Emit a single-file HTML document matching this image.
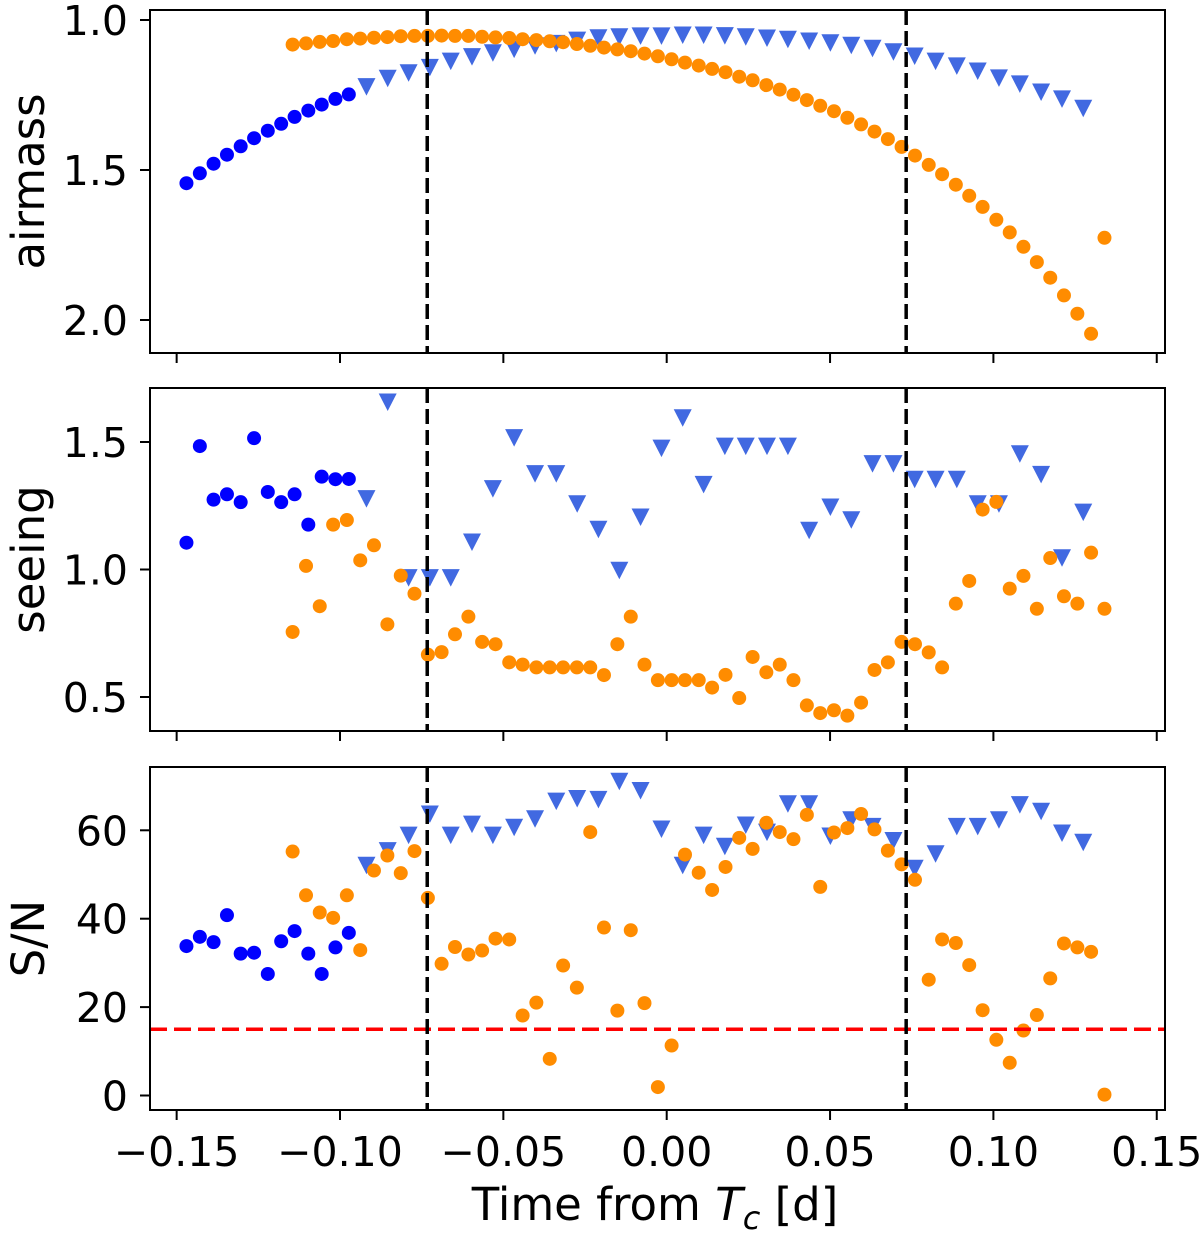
<!DOCTYPE html>
<html><head><meta charset="utf-8">
<style>
html,body{margin:0;padding:0;background:#fff;}
svg{display:block;}
text{font-family:"DejaVu Sans","Liberation Sans",sans-serif;fill:#000;}
</style></head>
<body>
<svg id="chart" width="1200" height="1233" viewBox="0 0 1200 1233" xmlns="http://www.w3.org/2000/svg"></svg>
<script>
// ---- data ----
const tBlue = [-0.1470,-0.1429,-0.1387,-0.1346,-0.1304,-0.1263,-0.1221,-0.1180,-0.1139,-0.1097,-0.1056,-0.1014,-0.0973];
const tTri = [-0.0919,-0.0854,-0.0790,-0.0725,-0.0661,-0.0596,-0.0532,-0.0467,-0.0403,-0.0338,-0.0274,-0.0209,-0.0145,-0.0080,-0.0016,0.0049,0.0113,0.0178,0.0242,0.0307,0.0371,0.0436,0.0501,0.0565,0.0630,0.0694,0.0759,0.0823,0.0888,0.0952,0.1017,0.1081,0.1146,0.1210,0.1275];
const tOrange = [-0.1145,-0.1104,-0.1062,-0.1021,-0.0979,-0.0938,-0.0896,-0.0855,-0.0814,-0.0772,-0.0731,-0.0689,-0.0648,-0.0607,-0.0565,-0.0524,-0.0482,-0.0441,-0.0399,-0.0358,-0.0317,-0.0275,-0.0234,-0.0192,-0.0151,-0.0110,-0.0068,-0.0027,0.0015,0.0056,0.0098,0.0139,0.0180,0.0222,0.0263,0.0305,0.0346,0.0388,0.0429,0.0470,0.0512,0.0553,0.0595,0.0636,0.0677,0.0719,0.0760,0.0802,0.0843,0.0885,0.0926,0.0967,0.1009,0.1050,0.1092,0.1133,0.1174,0.1216,0.1257,0.1299,0.1340];

const airBlue = [1.544,1.511,1.479,1.449,1.421,1.394,1.369,1.346,1.323,1.302,1.282,1.263,1.248];
const airTri = [1.222,1.194,1.176,1.158,1.137,1.122,1.109,1.097,1.086,1.078,1.067,1.059,1.056,1.053,1.053,1.050,1.050,1.052,1.056,1.060,1.064,1.070,1.076,1.084,1.094,1.106,1.120,1.137,1.153,1.170,1.193,1.213,1.240,1.263,1.294];
const airOrange = [1.082,1.078,1.073,1.070,1.064,1.062,1.059,1.057,1.054,1.053,1.053,1.052,1.053,1.053,1.056,1.058,1.060,1.064,1.067,1.071,1.074,1.080,1.086,1.092,1.098,1.104,1.112,1.121,1.131,1.142,1.152,1.163,1.174,1.189,1.201,1.217,1.232,1.249,1.267,1.286,1.304,1.326,1.348,1.372,1.397,1.423,1.452,1.483,1.514,1.549,1.586,1.623,1.666,1.708,1.756,1.807,1.859,1.918,1.979,2.046,1.726];

const seeBlue = [1.105,1.484,1.274,1.295,1.264,1.515,1.304,1.264,1.295,1.176,1.364,1.354,1.355];
const seeTri = [1.278,1.657,0.968,0.968,0.968,1.108,1.317,1.517,1.376,1.376,1.258,1.158,0.997,1.206,1.476,1.595,1.334,1.484,1.484,1.484,1.484,1.154,1.245,1.195,1.415,1.415,1.354,1.354,1.354,1.258,1.258,1.454,1.373,1.046,1.225];
const seeOrange = [0.755,1.014,0.856,1.176,1.194,1.036,1.095,0.785,0.976,0.905,0.666,0.676,0.746,0.815,0.716,0.707,0.636,0.627,0.616,0.616,0.616,0.616,0.616,0.586,0.707,0.815,0.627,0.566,0.566,0.566,0.566,0.537,0.587,0.496,0.657,0.597,0.627,0.566,0.467,0.437,0.448,0.427,0.478,0.606,0.636,0.716,0.707,0.675,0.616,0.866,0.955,1.235,1.265,0.925,0.975,0.846,1.045,0.895,0.866,1.066,0.846];

const snBlue = [33.8,35.9,34.7,40.8,32.1,32.3,27.5,34.9,37.2,32.1,27.5,33.5,36.8];
const snTri = [52.1,55.4,58.9,63.7,58.9,61.4,58.9,60.7,62.6,66.6,67.2,67.0,71.1,69.0,60.3,52.1,58.9,56.4,61.2,59.6,66.0,66.0,58.7,62.4,60.9,57.7,51.4,54.7,60.9,60.9,62.4,65.8,64.3,59.4,57.3];
const snOrange = [55.2,45.3,41.4,40.2,45.3,32.9,50.9,54.3,50.3,55.3,44.7,29.8,33.6,31.9,32.8,35.5,35.3,18.1,21.0,8.3,29.4,24.4,59.6,38.0,19.2,37.4,20.9,1.9,11.3,54.5,50.4,46.5,51.7,58.3,55.8,61.7,59.6,58.0,63.5,47.2,59.5,60.5,63.7,60.2,55.4,52.3,48.8,26.2,35.3,34.5,29.5,19.3,12.6,7.4,14.7,18.2,26.5,34.4,33.5,32.5,0.2];

const xTicks = [-0.15,-0.10,-0.05,0.00,0.05,0.10,0.15];
const xTickLabels = ["\u22120.15","\u22120.10","\u22120.05","0.00","0.05","0.10","0.15"];
const airTicks = [1.0,1.5,2.0];
const airTickLabels = ["1.0","1.5","2.0"];
const seeTicks = [0.5,1.0,1.5];
const seeTickLabels = ["0.5","1.0","1.5"];
const snTicks = [0,20,40,60];
const snTickLabels = ["0","20","40","60"];
const transitEdges = [-0.0733,0.0733];
const snThreshold = [15];

// ---- scales ----
const X0 = 150, X1 = 1165;
const xs = t => 666.7 + t*3267;
const panels = [
  {name:'airmass', top:10, bot:353, y:v => 20 + (v-1)*300, ticks:airTicks, labels:airTickLabels, label:'airmass',
   series:[[tBlue,airBlue],[tTri,airTri],[tOrange,airOrange]]},
  {name:'seeing', top:388, bot:731, y:v => 569.5 - (v-1)*255, ticks:seeTicks, labels:seeTickLabels, label:'seeing',
   series:[[tBlue,seeBlue],[tTri,seeTri],[tOrange,seeOrange]]},
  {name:'sn', top:767, bot:1110, y:v => 1095.5 - v*4.42, ticks:snTicks, labels:snTickLabels, label:'S/N',
   series:[[tBlue,snBlue],[tTri,snTri],[tOrange,snOrange]]}
];

const svg = document.getElementById('chart');
const NS = 'http://www.w3.org/2000/svg';
function mk(tag, attrs, parent){
  const e = document.createElementNS(NS, tag);
  for (const k in attrs) e.setAttribute(k, attrs[k]);
  (parent||svg).appendChild(e);
  return e;
}

panels.forEach((p, pi) => {
  const g = mk('g', {});
  
  

  const gb = mk('g', {fill:'#0000ff'}, g);
  
  
  p.series[0][0].forEach((t,i) => {
    const c = mk('circle', {cx:xs(t), cy:p.y(p.series[0][1][i]), r:7}, gb);
    
    
  });
  const gt = mk('g', {fill:'#4169e1'}, g);
  
  
  p.series[1][0].forEach((t,i) => {
    const cx = xs(t), cy = p.y(p.series[1][1][i]);
    const tri = mk('polygon', {points:`${cx-9},${cy-8.5} ${cx+9},${cy-8.5} ${cx},${cy+9}`}, gt);
    
    
  });
  const go = mk('g', {fill:'#ff8c00'}, g);
  
  
  p.series[2][0].forEach((t,i) => {
    const c = mk('circle', {cx:xs(t), cy:p.y(p.series[2][1][i]), r:7}, go);
    
    
  });

  if (pi === 2) {
    snThreshold.forEach(v => {
      const l = mk('line', {x1:X0, x2:X1, y1:p.y(v), y2:p.y(v), stroke:'#ff0000', 'stroke-width':3.5, 'stroke-dasharray':'17 7'}, g);
      
      
    });
  }
  transitEdges.forEach(t => {
    const l = mk('line', {x1:xs(t), x2:xs(t), y1:p.top, y2:p.bot, stroke:'#000', 'stroke-width':3.5, 'stroke-dasharray':'15 6'}, g);
    
    
  });

  const fr = mk('rect', {x:X0, y:p.top, width:X1-X0, height:p.bot-p.top, fill:'none', stroke:'#000', 'stroke-width':2}, g);
  
  

  xTicks.forEach((t,i) => {
    const tk = mk('line', {x1:xs(t), x2:xs(t), y1:p.bot, y2:p.bot+10, stroke:'#000', 'stroke-width':2}, g);
    
    
    if (pi === 2) {
      const tx = mk('text', {x:xs(t), y:p.bot+56, 'text-anchor':'middle', 'font-size':41}, g);
      tx.textContent = xTickLabels[i];
      
      
    }
  });
  p.ticks.forEach((v,i) => {
    const y = p.y(v);
    const tk = mk('line', {x1:X0-10, x2:X0, y1:y, y2:y, stroke:'#000', 'stroke-width':2}, g);
    
    
    const tx = mk('text', {x:128, y:y+15, 'text-anchor':'end', 'font-size':41}, g);
    tx.textContent = p.labels[i];
    
    
  });
  const cy = (p.top+p.bot)/2;
  const yl = mk('text', {x:0, y:0, 'text-anchor':'middle', 'font-size':45, transform:`translate(44,${cy}) rotate(-90)`}, g);
  yl.textContent = p.label;
  
  
});

const xl = mk('text', {x:655, y:1220, 'text-anchor':'middle', 'font-size':45});


xl.innerHTML = 'Time from <tspan font-style="italic">T</tspan><tspan font-style="italic" font-size="32" dy="9">c</tspan><tspan dy="-9"> [d]</tspan>';
</script>
</body></html>
